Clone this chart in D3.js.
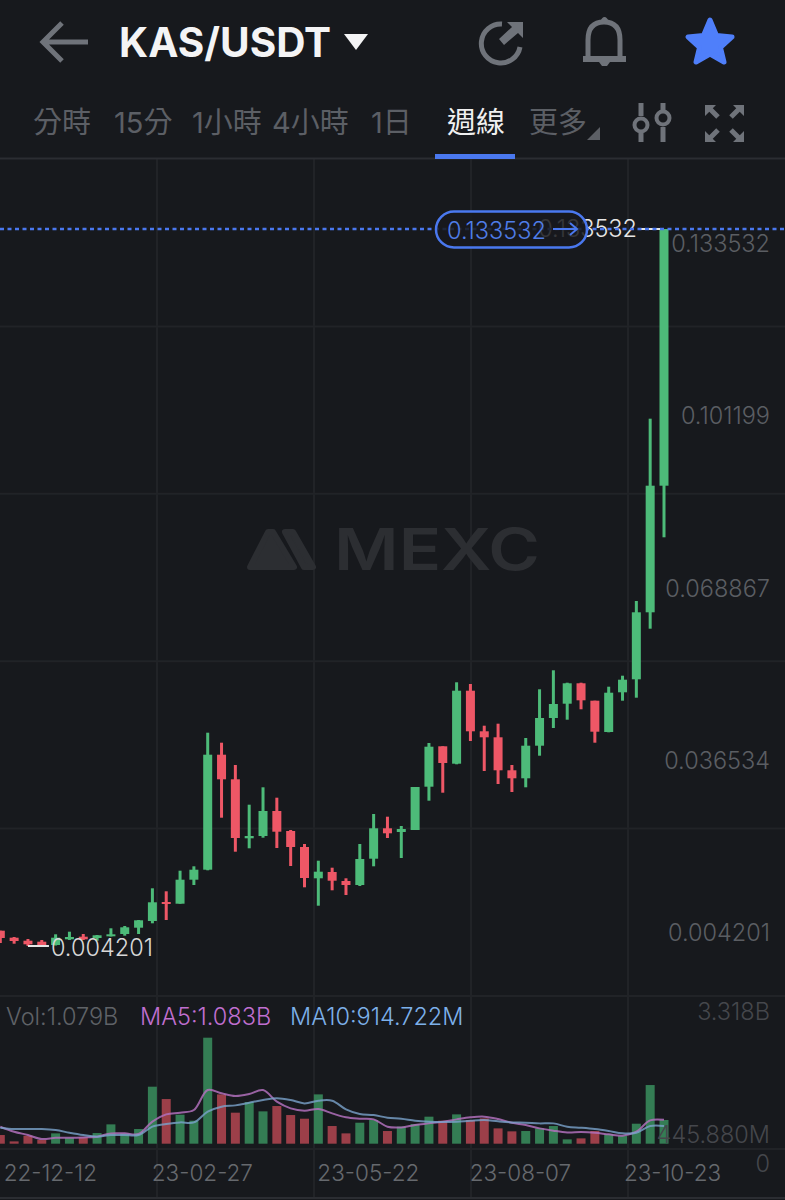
<!DOCTYPE html>
<html>
<head>
<meta charset="utf-8">
<script src="https://cdn.jsdelivr.net/npm/d3@7"></script>
<style>
    html, body { margin: 0; padding: 0; background: #17191d; }
    svg { display: block; }
    text { font-family: Inter, "Noto Sans CJK TC", sans-serif; }
    .price-label { font-size: 23.5px; fill: #5b5e63; font-weight: 300; }
    .vol-label { font-size: 23.5px; fill: #45474c; font-weight: 300; }
    .date-label { font-size: 22.5px; fill: #66696e; font-weight: 300; }
    .tab { font-size: 29px; fill: #5c5f65; }
    .icon { fill: none; stroke: #6f737a; stroke-width: 5; }
</style>
</head>
<body>
<div id="graphic"></div>
<script>
(function(d3){

    // Weekly candles, prices in thousandths of a USDT
    let open = [6.961,5.698,5.157,4.977,4.381,5.410,5.879,5.644,5.951,6.366,7.502,8.711,12.138,11.831,16.160,17.964,38.708,34.270,23.628,24.043,28.552,24.945,22.059,16.413,17.549,15.926,15.204,19.948,25.432,24.764,25.125,32.936,40.223,37.084,50.252,42.929,41.846,35.894,34.451,40.331,45.328,47.907,51.587,48.448,42.802,49.963,52.308,64.394,87.230];
    let high = [6.961,5.824,5.464,5.283,6.311,6.780,6.366,6.185,7.394,7.809,8.891,14.609,14.068,17.784,18.577,42.676,40.872,36.850,29.689,32.827,30.951,25.125,22.600,19.587,18.325,16.413,22.600,28.011,27.524,25.847,32.881,40.818,40.223,51.767,51.461,43.939,44.299,36.850,41.720,50.505,53.932,51.695,51.695,48.448,50.974,52.958,66.432,99.316,133.532];
    let low = [4.742,4.616,4.201,4.255,4.291,5.283,5.283,5.157,5.915,6.059,6.366,8.296,8.891,11.831,15.204,17.856,27.344,21.211,21.824,23.736,21.878,18.631,14.789,11.470,14.248,13.400,15.024,18.577,23.682,20.074,25.125,30.410,31.853,36.976,41.179,35.768,33.423,31.980,32.827,38.527,43.524,45.021,46.897,40.872,42.748,48.448,48.989,61.436,77.922];
    let close = [5.644,5.103,4.508,4.381,5.698,5.824,5.410,6.131,6.311,7.574,8.837,12.084,11.777,16.160,17.964,38.708,34.270,23.682,24.043,28.552,24.818,22.059,16.467,17.603,15.980,15.204,19.894,25.432,24.530,25.305,32.881,40.151,37.211,50.252,42.929,41.846,35.894,34.451,40.331,45.328,47.853,51.587,48.520,42.856,49.891,52.236,64.394,87.230,133.532];

    // Volume and moving averages, in billions
    let volume = [0.670,0.497,0.652,0.534,0.715,0.588,0.606,0.724,0.960,0.715,0.833,1.985,1.649,1.223,1.060,3.318,1.776,1.278,1.568,1.314,1.459,1.214,1.114,1.776,0.915,0.715,1.005,1.078,0.779,0.897,0.969,1.169,1.060,1.232,1.078,1.123,0.851,0.770,0.779,0.851,0.915,0.552,0.579,0.779,0.697,0.643,0.978,2.030,1.079];
    let ma5 = [0.897,0.761,0.670,0.561,0.597,0.597,0.606,0.624,0.715,0.715,0.697,1.033,1.232,1.278,1.350,1.894,1.804,1.731,1.785,1.894,1.577,1.395,1.332,1.377,1.259,1.151,1.114,1.096,0.897,0.878,0.942,0.987,1.033,1.096,1.151,1.169,1.105,1.005,0.942,0.851,0.788,0.742,0.751,0.733,0.688,0.652,0.761,1.069,1.083];
    let ma10 = [0.869,0.833,0.833,0.833,0.806,0.733,0.670,0.624,0.670,0.670,0.670,0.897,0.969,1.014,1.014,1.305,1.441,1.477,1.550,1.622,1.668,1.622,1.531,1.604,1.604,1.368,1.241,1.214,1.141,1.114,1.060,1.033,1.024,1.033,1.060,1.078,1.042,1.014,1.005,0.987,0.987,0.897,0.869,0.833,0.779,0.715,0.733,0.915,0.915];

    // Tick labels
    let priceTicks = [0.133532, 0.101199, 0.068867, 0.036534, 0.004201];
    let dateTicks = ['2022-12-12', '2023-02-27', '2023-05-22', '2023-08-07', '2023-10-23'];
    let tabs = ['分時', '15分', '1小時', '4小時', '1日', '週線', '更多'];
    let tabStart = [33, 114, 192, 272, 371, 447, 529];

    // First and last week on the chart
    let firstWeek = new Date(Date.UTC(2022, 10, 21));
    let lastWeek = new Date(Date.UTC(2023, 9, 23));
    let weeks = d3.utcMonday.range(firstWeek, d3.utcDay.offset(lastWeek, 1));

    let width = 785, height = 1200;
    let green = '#4dbb79', red = '#ee5766', blue = '#4a78ef';
    let dimGreen = '#347d54', dimRed = '#9c3f49';
    let gridColor = '#212327';

    let svg = d3.select('#graphic')
                .append('svg')
                .attr('width', width)
                .attr('height', height);

    svg.append('rect')
       .attr('width', width)
       .attr('height', height)
       .attr('fill', '#17191d');

    let x = d3.scaleUtc().domain([firstWeek, lastWeek]).range([0.3, 664]);
    let y = d3.scaleLinear().domain([4.201, 133.532]).range([946, 229]);
    let volY = d3.scaleLinear().domain([0.434, 3.318]).range([1143.7, 1037.7]);

    // Price labels sit inside the pane, so they get their own tighter scale
    let priceLabelY = d3.scaleLinear().domain([0.004201, 0.133532]).range([933, 244]);

    function drawGrid()
    {
        let gridX = d3.scaleLinear().domain([0, 5]).range([0, width]);
        let gridY = d3.scaleLinear().domain([0, 5]).range([159, 996]);

        d3.range(1, 5).forEach(i => {
            svg.append('line')
               .attr('x1', gridX(i)).attr('x2', gridX(i))
               .attr('y1', 159).attr('y2', 1197)
               .attr('stroke', gridColor).attr('stroke-width', 2);
        });
        d3.range(1, 6).forEach(i => {
            svg.append('line')
               .attr('x1', 0).attr('x2', width)
               .attr('y1', gridY(i)).attr('y2', gridY(i))
               .attr('stroke', gridColor).attr('stroke-width', 2);
        });

        // Volume pane floor, bottom edge and header rule
        [[1149, gridColor], [1198, '#2b2d32'], [158.5, '#2b2d32']].forEach(l => {
            svg.append('line')
               .attr('x1', 0).attr('x2', width)
               .attr('y1', l[0]).attr('y2', l[0])
               .attr('stroke', l[1]).attr('stroke-width', 2);
        });
    }

    function drawWatermark()
    {
        let mark = svg.append('g')
            .attr('fill', '#2c2e32')
            .attr('stroke', '#2c2e32')
            .attr('stroke-width', 6)
            .attr('stroke-linejoin', 'round');
        mark.append('path').attr('d', 'M250 567 L268 532 L273 532 L294 567 Z');
        mark.append('path').attr('d', 'M285 532 L293 532 L313 567 L304 567 Z');
        svg.append('text')
           .text('MEXC')
           .attr('x', 334)
           .attr('y', 570)
           .attr('font-size', 58)
           .attr('font-weight', 600)
           .attr('textLength', 206)
           .attr('lengthAdjust', 'spacingAndGlyphs')
           .attr('fill', '#2c2e32');
    }

    function drawCandles()
    {
        let candles = svg.append('g').selectAll('g')
            .data(weeks)
            .join('g')
            .attr('fill', (d, i) => close[i] >= open[i] ? green : red);

        candles.append('rect')
            .attr('x', d => x(d) - 1.5)
            .attr('width', 3)
            .attr('y', (d, i) => y(high[i]))
            .attr('height', (d, i) => y(low[i]) - y(high[i]));

        candles.append('rect')
            .attr('x', d => x(d) - 4.5)
            .attr('width', 9)
            .attr('y', (d, i) => y(Math.max(open[i], close[i])))
            .attr('height', (d, i) => Math.max(2, Math.abs(y(open[i]) - y(close[i]))));
    }

    function drawVolume()
    {
        svg.append('g').selectAll('rect')
            .data(weeks)
            .join('rect')
            .attr('x', d => x(d) - 4.5)
            .attr('width', 9)
            .attr('y', (d, i) => volY(volume[i]))
            .attr('height', (d, i) => volY.range()[0] - volY(volume[i]))
            .attr('fill', (d, i) => close[i] >= open[i] ? dimGreen : dimRed);

        let line = series => d3.line()
            .x(d => x(d))
            .y((d, i) => volY(series[i]))
            .curve(d3.curveCatmullRom)(weeks);

        svg.append('path')
           .attr('d', line(ma5))
           .attr('fill', 'none')
           .attr('stroke', '#b070bb')
           .attr('stroke-width', 2)
           .attr('stroke-opacity', 0.85);

        svg.append('path')
           .attr('d', line(ma10))
           .attr('fill', 'none')
           .attr('stroke', '#7aa3cc')
           .attr('stroke-width', 2)
           .attr('stroke-opacity', 0.8);
    }

    function drawAxes()
    {
        let priceAxis = d3.axisLeft(priceLabelY)
            .tickValues(priceTicks)
            .tickSize(0)
            .tickPadding(0)
            .tickFormat(d3.format('.6f'));

        let priceGroup = svg.append('g')
            .attr('transform', 'translate(770,0)')
            .call(priceAxis);
        priceGroup.select('.domain').remove();
        priceGroup.selectAll('text')
            .attr('class', 'price-label')
            .attr('font-family', null)
            .attr('font-size', null)
            .attr('fill', null);

        // Date labels are nudged right of their candle
        let dateAxis = d3.axisBottom(x)
            .tickValues(dateTicks.map(d => new Date(d + 'T00:00:00Z')))
            .tickSize(0)
            .tickPadding(0)
            .tickFormat(d3.utcFormat('%y-%m-%d'));

        let dateGroup = svg.append('g')
            .attr('transform', 'translate(8,1181)')
            .call(dateAxis);
        dateGroup.select('.domain').remove();
        dateGroup.selectAll('text')
            .attr('class', 'date-label')
            .attr('dy', 0)
            .attr('font-family', null)
            .attr('font-size', null)
            .attr('fill', null);

        // Volume pane labels
        [['3.318B', 1020], ['445.880M', 1143], ['0', 1172]].forEach(l => {
            svg.append('text')
               .text(l[0])
               .attr('x', 770)
               .attr('y', l[1])
               .attr('text-anchor', 'end')
               .attr('class', 'vol-label');
        });

        // Legend line
        [['Vol:1.079B', 6, '#5f6267'], ['MA5:1.083B', 140, '#c06fd0'], ['MA10:914.722M', 290, '#7db0ea']].forEach(l => {
            svg.append('text')
               .text(l[0])
               .attr('x', l[1])
               .attr('y', 1025)
               .attr('font-size', 23.5)
               .attr('font-weight', 300)
               .attr('fill', l[2]);
        });

        // Lowest price marker
        let lowX = x(weeks[2]);
        svg.append('line')
           .attr('x1', lowX).attr('x2', lowX + 21)
           .attr('y1', y(4.201)).attr('y2', y(4.201))
           .attr('stroke', '#e6e6e6').attr('stroke-width', 2);
        svg.append('text')
           .text('0.004201')
           .attr('x', lowX + 23)
           .attr('y', y(4.201) + 10)
           .attr('font-size', 23.5)
           .attr('font-weight', 300)
           .attr('fill', '#d8d8d8');
    }

    function drawLastPrice()
    {
        let lastY = y(133.532);

        // Highest price marker, partly under the pill
        svg.append('text')
           .text('0.133532')
           .attr('x', 637)
           .attr('y', lastY + 8)
           .attr('text-anchor', 'end')
           .attr('font-size', 23.5)
           .attr('font-weight', 300)
           .attr('fill', '#e6e6e6');
        svg.append('line')
           .attr('x1', 640).attr('x2', 661)
           .attr('y1', lastY).attr('y2', lastY)
           .attr('stroke', '#e6e6e6').attr('stroke-width', 2);

        svg.append('line')
           .attr('x1', 0).attr('x2', width)
           .attr('y1', lastY).attr('y2', lastY)
           .attr('stroke', blue).attr('stroke-width', 2.5)
           .attr('stroke-dasharray', '4 3.5');

        svg.append('rect')
           .attr('x', 436).attr('y', 211.5)
           .attr('width', 151).attr('height', 36)
           .attr('rx', 18)
           .attr('fill', '#17191d').attr('fill-opacity', 0.86)
           .attr('stroke', blue).attr('stroke-width', 2.5);

        svg.append('text')
           .text('0.133532')
           .attr('x', 447)
           .attr('y', lastY + 10)
           .attr('font-size', 23.5)
           .attr('font-weight', 300)
           .attr('fill', '#4f7de8');

        svg.append('path')
           .attr('d', `M553 ${lastY} H577 M570 ${lastY - 6} L577 ${lastY} L570 ${lastY + 6}`)
           .attr('fill', 'none')
           .attr('stroke', blue)
           .attr('stroke-width', 2);
    }

    function drawHeader()
    {
        // Back arrow
        svg.append('path')
           .attr('class', 'icon')
           .attr('d', 'M88 42 H44 M62 23 L43 42 L62 61');

        svg.append('text')
           .text('KAS/USDT')
           .attr('x', 119)
           .attr('y', 57)
           .attr('font-size', 40.5)
           .attr('font-weight', 700)
           .attr('fill', '#f4f4f5');

        svg.append('path')
           .attr('d', 'M344 34 H368 L356 50 Z')
           .attr('fill', '#f4f4f5');

        // Share icon
        svg.append('path')
           .attr('class', 'icon')
           .attr('stroke-width', 6)
           .attr('d', 'M502 24 A19.5 19.5 0 1 0 520 47');
        svg.append('path')
           .attr('d', 'M507 22 H523 V38 L518 33 L504 45 L499 39 L512 27 Z')
           .attr('fill', '#6f737a');

        // Bell
        svg.append('path')
           .attr('class', 'icon')
           .attr('d', 'M588 58 V40 Q588 22 604 22 Q620 22 620 40 V58');
        svg.append('path')
           .attr('d', 'M583 56 H626 V62 H583 Z M599 62 H610 L607 66 H602 Z M600 22 Q602 17 604.5 17 Q607 17 609 22 Z')
           .attr('fill', '#6f737a');

        // Favourite star
        svg.append('path')
           .attr('d', 'M710 20 L716.5 35.5 L732 37 L720.5 47.5 L724 62 L710 54 L696 62 L699.5 47.5 L688 37 L703.5 35.5 Z')
           .attr('fill', '#4f7ffa')
           .attr('stroke', '#4f7ffa')
           .attr('stroke-width', 5)
           .attr('stroke-linejoin', 'round');

        // Interval tabs
        tabs.forEach((t, i) => {
            svg.append('text')
               .text(t)
               .attr('x', tabStart[i])
               .attr('y', 133)
               .attr('class', 'tab')
               .style('fill', t === '週線' ? '#f0f0f0' : null);
        });

        svg.append('path')
           .attr('d', 'M600 127 V140 H587 Z')
           .attr('fill', '#5c5f65');

        svg.append('rect')
           .attr('x', 435).attr('y', 154)
           .attr('width', 80).attr('height', 5)
           .attr('fill', blue);

        // Indicator sliders
        svg.append('path')
           .attr('class', 'icon')
           .attr('stroke-width', 4)
           .attr('d', 'M641 103 V116 M641 133 V142 M663 103 V111 M663 127 V142');
        svg.append('circle')
           .attr('cx', 641).attr('cy', 125).attr('r', 6.5)
           .attr('fill', 'none').attr('stroke', '#6f737a').attr('stroke-width', 4);
        svg.append('circle')
           .attr('cx', 663).attr('cy', 118).attr('r', 6.5)
           .attr('fill', 'none').attr('stroke', '#6f737a').attr('stroke-width', 4);

        // Fullscreen arrows
        svg.append('path')
           .attr('class', 'icon')
           .attr('stroke-width', 3.5)
           .attr('d', 'M708 107 L718 117 M741 107 L731 117 M708 140 L718 130 M741 140 L731 130');
        svg.append('path')
           .attr('d', 'M705 105 H716 L705 116 Z M744 105 H733 L744 116 Z M705 142 H716 L705 131 Z M744 142 H733 L744 131 Z')
           .attr('fill', '#6f737a');
    }

    drawGrid();
    drawWatermark();
    drawVolume();
    drawCandles();
    drawAxes();
    drawLastPrice();
    drawHeader();

})(window.d3);
</script>
</body>
</html>
